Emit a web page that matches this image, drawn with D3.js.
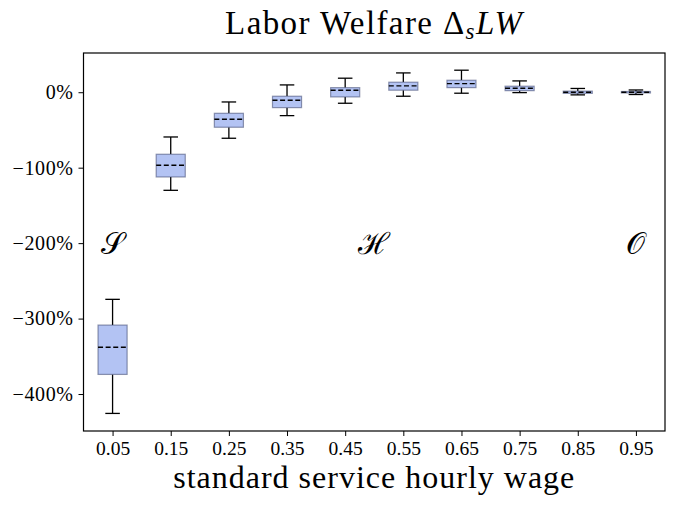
<!DOCTYPE html>
<html>
<head>
<meta charset="utf-8">
<script src="https://cdn.jsdelivr.net/npm/d3@7"></script>
<style>
  body { margin: 0; background: #fff; }
  svg { display: block; }
  text { font-family: "Liberation Serif", "DejaVu Serif", serif; fill: #000; }
</style>
</head>
<body>
<div id="chart"></div>
<script>
// wage levels on the x axis
const categories = ["0.05", "0.15", "0.25", "0.35", "0.45", "0.55", "0.65", "0.75", "0.85", "0.95"]

// box statistics, labour welfare change in %
const whiskerLow  = [-425.7, -130.0, -61.0, -31.0, -14.6, -5.3, -1.3, -0.5, -3.5, -3.0]
const quartile1   = [-374.0, -112.3, -46.4, -20.4,  -6.2,  2.7,  6.1,  2.1, -1.5, -1.0]
const medians     = [-338.0,  -96.8, -35.8, -10.6,   2.7,  8.4, 11.4,  5.3,  0.0,  0.0]
const quartile3   = [-308.6,  -82.2, -27.9,  -5.3,   6.1, 13.3, 15.9,  8.0,  1.5,  1.0]
const whiskerHigh = [-274.5,  -59.3, -12.9,   9.7,  18.6, 25.6, 29.2, 15.0,  5.0,  3.0]

const yTicks = [0, -100, -200, -300, -400]

// regime labels: position given as category index (fractional = between boxes)
const regimeLabels = ["\u{1D4AE}", "\u210B", "\u{1D4AA}"]
const regimeIndex = [0, 4.5, 9]
const regimeValue = [-200, -200, -200]

const width = 674, height = 505
const margin = { left: 83.5, top: 53, right: 9, bottom: 74 }
const innerW = width - margin.left - margin.right
const innerH = height - margin.top - margin.bottom

const svg = d3.select("#chart").append("svg")
  .attr("width", width)
  .attr("height", height)

const g = svg.append("g")
  .attr("transform", `translate(${margin.left}, ${margin.top})`)

const x = d3.scalePoint()
  .domain(categories)
  .range([0, innerW])
  .padding(0.5)

const y = d3.scaleLinear()
  .domain([-449, 52])
  .range([innerH, 0])

const boxW = x.step() * 0.5
const capW = boxW * 0.5

const rows = categories.map((c, i) => ({
  cat: c,
  lo: whiskerLow[i], q1: quartile1[i], med: medians[i], q3: quartile3[i], hi: whiskerHigh[i]
}))

// axes
const fmt = v => (v < 0 ? "\u2212" : "") + Math.abs(v) + "%"

const yAxis = g.append("g")
  .call(d3.axisLeft(y).tickValues(yTicks).tickFormat(fmt).tickSize(5).tickPadding(5))
yAxis.select(".domain").remove()
yAxis.selectAll("text").attr("font-size", 20).attr("font-family", null).attr("letter-spacing", 0.6)

const xAxis = g.append("g")
  .attr("transform", `translate(0, ${innerH})`)
  .call(d3.axisBottom(x).tickSize(5).tickPadding(5))
xAxis.select(".domain").remove()
xAxis.selectAll("text").attr("font-size", 19.5).attr("font-family", null)
g.selectAll(".tick line").attr("stroke", "#000").attr("stroke-width", 1)

// boxes
const box = g.append("g").selectAll("g")
  .data(rows)
  .join("g")
  .attr("transform", d => `translate(${x(d.cat)}, 0)`)

box.append("line")
  .attr("y1", d => y(d.q3)).attr("y2", d => y(d.hi))
  .attr("stroke", "#000").attr("stroke-width", 1.3)
box.append("line")
  .attr("y1", d => y(d.q1)).attr("y2", d => y(d.lo))
  .attr("stroke", "#000").attr("stroke-width", 1.3)
box.append("line")
  .attr("x1", -capW / 2).attr("x2", capW / 2)
  .attr("y1", d => y(d.hi)).attr("y2", d => y(d.hi))
  .attr("stroke", "#000").attr("stroke-width", 1.3)
box.append("line")
  .attr("x1", -capW / 2).attr("x2", capW / 2)
  .attr("y1", d => y(d.lo)).attr("y2", d => y(d.lo))
  .attr("stroke", "#000").attr("stroke-width", 1.3)

box.append("rect")
  .attr("x", -boxW / 2)
  .attr("width", boxW)
  .attr("y", d => y(d.q3))
  .attr("height", d => y(d.q1) - y(d.q3))
  .attr("fill", "rgb(179,195,243)")
  .attr("stroke", "rgba(60,70,110,0.55)")
  .attr("stroke-width", 1.2)

box.append("line")
  .attr("x1", -boxW / 2).attr("x2", boxW / 2)
  .attr("y1", d => y(d.med)).attr("y2", d => y(d.med))
  .attr("stroke", "#000").attr("stroke-width", 1.4)
  .attr("stroke-dasharray", "5,2.6")

// regime annotations
const xAt = idx => x(categories[0]) + idx * x.step()
g.append("g").selectAll("text")
  .data(regimeLabels)
  .join("text")
  .attr("x", (d, i) => xAt(regimeIndex[i]))
  .attr("y", (d, i) => y(regimeValue[i]))
  .attr("text-anchor", "middle")
  .attr("dominant-baseline", "central")
  .attr("font-size", 30)
  .text(d => d)

// frame
g.append("rect")
  .attr("width", innerW).attr("height", innerH)
  .attr("fill", "none").attr("stroke", "#000").attr("stroke-width", 1.2)

// title
const title = svg.append("text")
  .attr("x", margin.left + innerW / 2)
  .attr("y", 34)
  .attr("text-anchor", "middle")
  .attr("font-size", 33)
  .attr("letter-spacing", 1.4)
title.append("tspan").text("Labor Welfare \u0394")
title.append("tspan").attr("font-style", "italic").attr("font-size", 23).attr("dy", 5).text("s")
title.append("tspan").attr("font-style", "italic").attr("dy", -5).text("LW")

// x label
svg.append("text")
  .attr("x", margin.left + innerW / 2)
  .attr("y", 488)
  .attr("text-anchor", "middle")
  .attr("font-size", 32)
  .attr("letter-spacing", 1)
  .text("standard service hourly wage")
</script>
</body>
</html>
